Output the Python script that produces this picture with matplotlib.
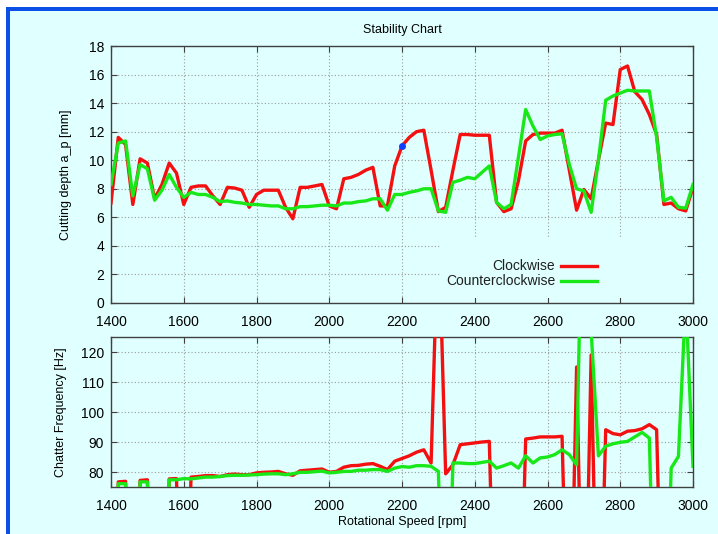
import numpy as np
import matplotlib
matplotlib.use("Agg")
import matplotlib.pyplot as plt
from matplotlib.patches import Rectangle

plt.rcParams['font.family'] = ['Liberation Sans', 'DejaVu Sans']

# spindle speed grid [rpm]
speed = np.arange(1400, 3001, 20)

# stability limit, cutting depth [mm]
depth_cw = [7.0, 11.6, 11.1, 6.9, 10.1, 9.8, 7.3, 8.3, 9.8, 9.1,
            6.9, 8.1, 8.2, 8.2, 7.5, 6.9, 8.1, 8.05, 7.9, 6.7,
            7.6, 7.9, 7.9, 7.9, 6.7, 5.9, 8.1, 8.1, 8.2, 8.3,
            6.8, 6.6, 8.7, 8.8, 9.0, 9.3, 9.5, 6.8, 6.8, 9.6,
            11.0, 11.6, 12.0, 12.1, 9.3, 6.4, 6.7, 9.3, 11.8, 11.8,
            11.75, 11.75, 11.75, 7.05, 6.4, 6.6, 8.55, 11.35, 11.8, 11.9,
            11.9, 11.9, 12.1, 9.3, 6.5, 7.95, 7.3, 10.0, 12.6, 12.5,
            16.35, 16.6, 14.8, 14.25, 13.2, 11.8, 6.9, 7.0, 6.6, 6.45,
            8.1]
depth_ccw = [8.3, 11.2, 11.35, 7.5, 9.7, 9.4, 7.2, 7.9, 9.0, 8.1,
             7.4, 7.75, 7.6, 7.6, 7.4, 7.1, 7.15, 7.05, 7.0, 6.9,
             6.9, 6.85, 6.8, 6.8, 6.6, 6.6, 6.75, 6.75, 6.8, 6.85,
             6.85, 6.8, 7.0, 7.0, 7.1, 7.15, 7.3, 7.3, 6.5, 7.6,
             7.6, 7.75, 7.85, 8.0, 8.0, 6.45, 6.35, 8.45, 8.6, 8.8,
             8.7, 9.15, 9.6, 7.05, 6.6, 6.9, 10.2, 13.55, 12.4, 11.45,
             11.7, 11.8, 11.85, 9.7, 8.0, 7.85, 6.35, 10.0, 14.2, 14.5,
             14.7, 14.9, 14.85, 14.85, 14.85, 11.6, 7.15, 7.4, 6.7, 6.65,
             8.3]

# chatter frequency [Hz], 0 where no chatter was found
freq_cw = [0, 76.7, 76.9, 0, 77.2, 77.4, 0, 0, 77.7, 77.8,
           0, 78.3, 78.5, 78.8, 78.8, 78.5, 79.1, 79.3, 79.1, 79.1,
           79.7, 79.9, 80.0, 80.2, 79.4, 78.9, 80.4, 80.6, 80.8, 81.0,
           79.9, 80.2, 81.6, 82.1, 82.2, 82.6, 82.8, 81.9, 80.8, 83.6,
           84.5, 85.4, 86.6, 87.4, 83.0, 165, 79.4, 82.4, 89.1, 89.4,
           89.7, 90.0, 90.2, 0, 0, 0, 0, 91.0, 91.3, 91.7,
           91.7, 91.7, 91.9, 0, 115, 0, 119, 0, 94.1, 92.8,
           92.4, 93.6, 93.8, 94.4, 95.8, 94.1, 0, 0, 0, 0,
           0]
freq_ccw = [0, 76.1, 76.1, 0, 76.7, 76.7, 0, 0, 77.4, 77.4,
            77.8, 77.7, 78.0, 78.3, 78.3, 78.5, 78.8, 78.9, 78.9, 79.0,
            79.1, 79.3, 79.4, 79.4, 79.1, 79.4, 79.9, 79.9, 80.1, 80.3,
            79.7, 79.9, 80.2, 80.2, 80.6, 80.6, 80.8, 80.8, 80.2, 81.3,
            81.8, 81.6, 82.1, 82.1, 81.9, 80.2, 0, 83.0, 83.0, 82.8,
            82.8, 83.2, 83.6, 81.3, 82.1, 83.0, 81.3, 85.4, 83.0, 84.7,
            85.0, 85.8, 87.4, 85.8, 82.4, 200, 127, 85.4, 88.6, 89.4,
            89.9, 90.2, 91.7, 93.2, 91.3, 0, 0, 81.3, 85.2, 138,
            81.9]

# selected operating point
sel_speed = [2200]
sel_depth = [11.0]

bg = '#e0ffff'
red = '#f41010'
green = '#18e818'

fig = plt.figure(figsize=(7.18, 5.34), dpi=100, facecolor='white')
# blue frame around the panel, kept behind the axes
fig.patches.append(Rectangle((6 / 718, 0), 1, 1 - 7 / 534, transform=fig.transFigure,
                             facecolor='#0a4fe6', edgecolor='none', zorder=-10))
fig.patches.append(Rectangle((10 / 718, 0), 1, 1 - 11 / 534, transform=fig.transFigure,
                             facecolor=bg, edgecolor='none', zorder=-9))

ax1 = fig.add_axes([111 / 718, 231 / 534, 582 / 718, 257 / 534])
ax2 = fig.add_axes([111 / 718, 47 / 534, 582 / 718, 150 / 534])


def style(ax):
    ax.set_facecolor(bg)
    ax.set_axisbelow(True)
    ax.grid(True, linestyle=(0, (1, 2)), color='#9a9a9a', linewidth=0.8)
    ax.tick_params(direction='in', top=True, right=True, length=4,
                   labelsize=10, color='#404040', pad=5)
    ax.tick_params(axis='x', pad=9)
    for s in ax.spines.values():
        s.set_color('#404040')
        s.set_linewidth(1.0)
    ax.set_xlim(1400, 3000)
    ax.set_xticks(range(1400, 3001, 200))


style(ax1)
ax1.plot(speed, depth_cw, color=red, lw=2.4, zorder=3)
ax1.plot(speed, depth_ccw, color=green, lw=2.4, zorder=3)
ax1.plot(sel_speed, sel_depth, 'o', color='#1040ff', ms=4, zorder=4)
ax1.set_ylim(0, 18)
ax1.set_yticks(range(0, 19, 2))
ax1.set_ylabel('Cutting depth a_p [mm]', fontsize=9, labelpad=12)
ax1.set_title('Stability Chart', fontsize=9, pad=9)

# key in the lower right corner, samples drawn after the labels
ax1.add_patch(Rectangle((0.565, 0.02), 0.42, 0.23, transform=ax1.transAxes,
                        facecolor=bg, edgecolor='none', zorder=1.5))
for yk, lab, col in [(0.144, 'Clockwise', red), (0.086, 'Counterclockwise', green)]:
    ax1.text(0.763, yk, lab, transform=ax1.transAxes, ha='right', va='center',
             fontsize=10, color='#202020')
    ax1.plot([0.773, 0.835], [yk, yk], transform=ax1.transAxes, color=col, lw=2.4)

style(ax2)
ax2.plot(speed, freq_cw, color=red, lw=2.4, zorder=3)
ax2.plot(speed, freq_ccw, color=green, lw=2.4, zorder=3)
ax2.set_ylim(75, 125)
ax2.set_yticks(range(80, 121, 10))
ax2.set_ylabel('Chatter Frequency [Hz]', fontsize=9, labelpad=10)
ax2.set_xlabel('Rotational Speed [rpm]', fontsize=9, labelpad=2)

fig.savefig('out.png', dpi=100, facecolor='white')
